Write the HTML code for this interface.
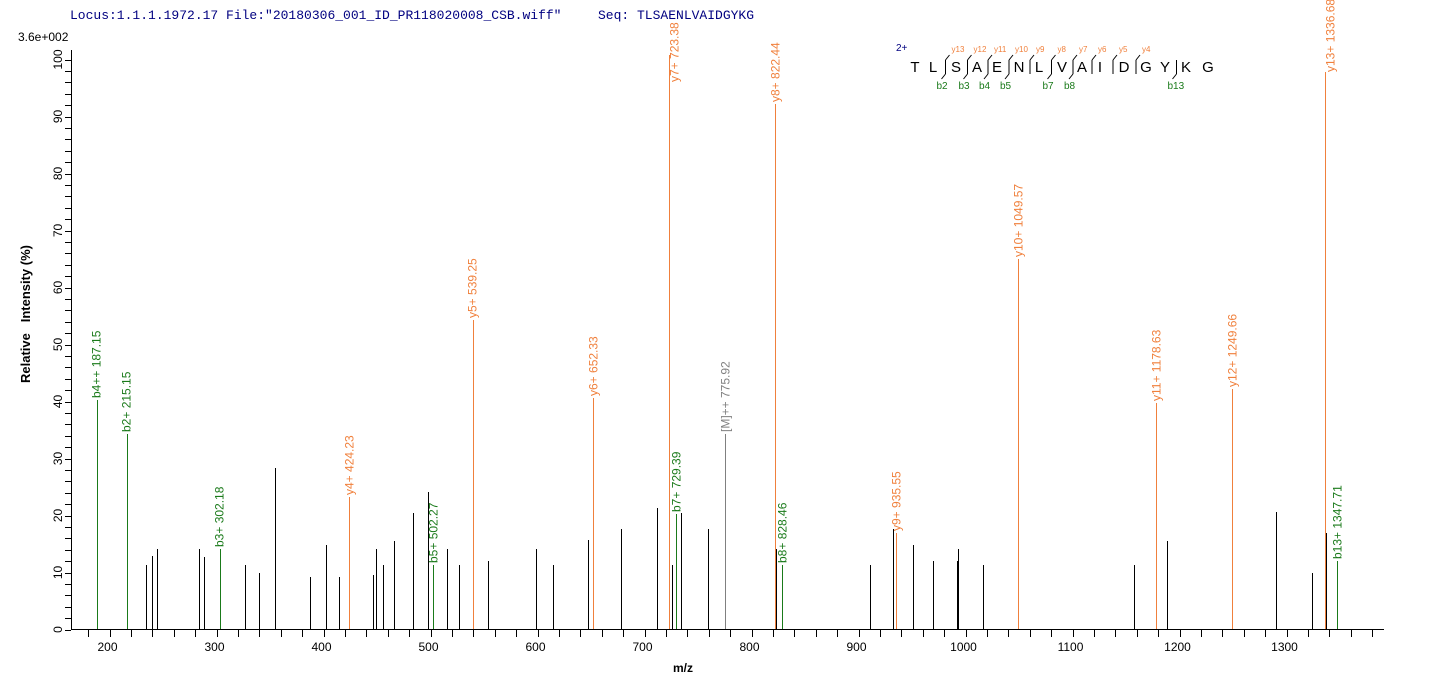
<!DOCTYPE html>
<html><head><meta charset="utf-8"><style>
html,body{margin:0;padding:0;background:#fff;}
svg{display:block;}
text{font-family:"Liberation Sans",Arial,sans-serif;}
</style></head><body>
<svg width="1436" height="689" viewBox="0 0 1436 689" xmlns="http://www.w3.org/2000/svg">
<text x="70" y="19" font-size="13" fill="#000080" style="font-family:'Liberation Mono',monospace">Locus:1.1.1.1972.17 File:"20180306_001_ID_PR118020008_CSB.wiff"</text>
<text x="598" y="19" font-size="13" fill="#000080" style="font-family:'Liberation Mono',monospace;white-space:pre">Seq: TLSAENLVAIDGYKG</text>
<text x="18" y="41" font-size="12" fill="#000">3.6e+002</text>
<g stroke="#000" stroke-width="1" shape-rendering="crispEdges">
<line x1="71.5" y1="50" x2="71.5" y2="630"/>
<line x1="71" y1="629.5" x2="1384" y2="629.5"/>
<g id="yt"></g><g id="xt"></g>
</g>
<g id="yl" font-size="12" fill="#000"></g>
<g id="xl" font-size="12" fill="#000"></g>
<text transform="translate(30,314) rotate(-90)" text-anchor="middle" font-size="13" font-weight="bold" style="white-space:pre">Relative   Intensity (%)</text>
<text x="683" y="672" text-anchor="middle" font-size="12" font-weight="bold">m/z</text>
<g id="peaks" shape-rendering="crispEdges"></g>
<g id="labels" font-size="12"></g>
<g id="seq"></g>
</svg>
<script>
var NS="http://www.w3.org/2000/svg";
function el(p,t,a,txt){var e=document.createElementNS(NS,t);for(var k in a)e.setAttribute(k,a[k]);if(txt!=null)e.textContent=txt;document.getElementById(p).appendChild(e);return e;}
for(var v=0;v<=100;v+=2){var y=629.5-v*5.7;y=Math.round(y)+0.5;el('yt','line',{x1:65,y1:y,x2:71,y2:y});
 if(v%10==0)el('yl','text',{transform:'translate(62,'+(629.5-v*5.7)+') rotate(-90)','text-anchor':'middle'},String(v));}
function X(m){return 109.5+(m-200)*1.07;}
for(var m=180;m<=1380;m+=20){var x=Math.round(X(m))+0.5;if(x<71||x>1384)continue;el('xt','line',{x1:x,y1:630,x2:x,y2:637});
 if(m%100==0)el('xl','text',{x:X(m)-2,y:651,'text-anchor':'middle'},String(m));}
var K='#000',G='#1a7a1a',O='#f0803c',GR='#808080';
var P=[[145.7,565],[152.3,556],[157.3,549],[199.3,549],[204.3,557],[245.3,565],[258.7,573],[275.3,468],[309.7,577],[326.3,545],[339.3,577],[373.3,575],[376.3,549],[383.3,565],[394.3,541],[413.3,513],[428.3,492],[447.3,549],[459.3,565],[487.7,561],
[536.3,549],[553.3,565],[588.3,540],[621.3,529],[657.3,508],[672.3,565],[681.3,513],[707.7,529],[776.3,549],[870.3,565],[893.3,529],[912.7,565],[913.3,545],[933.3,561],
[957.3,561],[958.3,549],[983.3,565],[1134.3,565],[1167.3,541],[1276.3,512],[1312.3,573],[1326.3,533]];
P.forEach(function(p){var x=Math.round(p[0])+0.5;el('peaks','line',{x1:x,y1:p[1],x2:x,y2:629,stroke:K});});
var L=[[96.7,400,G,'b4++ 187.15'],[126.7,434,G,'b2+ 215.15'],[219.7,549,G,'b3+ 302.18'],[433.3,565,G,'b5+ 502.27'],[349.3,497,O,'y4+ 424.23'],[472.7,320,O,'y5+ 539.25'],[593.3,398,O,'y6+ 652.33'],[669.3,55,O,'y7+ 723.38',82],[725.3,434,GR,'[M]++ 775.92'],[775.3,104,O,'y8+ 822.44'],[676.3,514,G,'b7+ 729.39'],[782.3,565,G,'b8+ 828.46'],[896.3,533,O,'y9+ 935.55'],[1018.3,259,O,'y10+ 1049.57'],[1156.3,403,O,'y11+ 1178.63'],[1232.3,389,O,'y12+ 1249.66'],[1325.3,72,O,'y13+ 1336.68',72],[1337.3,561,G,'b13+ 1347.71']];
L.forEach(function(p){var x=Math.round(p[0])+0.5;el('peaks','line',{x1:x,y1:p[1],x2:x,y2:629,stroke:p[2]});
 var by=p[4]!=null?p[4]:p[1]-2;var tx=p[4]!=null?p[0]+9:p[0]+4;
 el('labels','text',{transform:'translate('+tx+','+by+') rotate(-90)',fill:p[2]},p[3]);});
el('seq','text',{x:896,y:51,'font-size':'10',fill:'#000080'},'2+');
var letters='TLSAENLVAIDGYKG'.split(''),lx=[915,933,956,977,997,1019,1039,1062,1082,1100,1124,1146,1165,1186,1208];
letters.forEach(function(c,i){el('seq','text',{x:lx[i],y:72,'font-size':'15','text-anchor':'middle',fill:'#000'},c);});
var ys=['y13','y12','y11','y10','y9','y8','y7','y6','y5','y4'];
for(var i=0;i<10;i++){var bx=(lx[i+2]+lx[i+1])/2+1;
 el('seq','line',{x1:bx,y1:60,x2:bx,y2:74,stroke:'#000','stroke-width':1});
 el('seq','line',{x1:bx,y1:60,x2:bx+4,y2:55,stroke:'#000','stroke-width':1});
 el('seq','text',{x:bx+6,y:52,'font-size':'8',fill:O},ys[i]);}
var bb=[[1,'b2'],[2,'b3'],[3,'b4'],[4,'b5'],[6,'b7'],[7,'b8'],[12,'b13']];
bb.forEach(function(b){var bx=(lx[b[0]+1]+lx[b[0]])/2+1;
 el('seq','line',{x1:bx,y1:74,x2:bx-4,y2:79,stroke:'#000','stroke-width':1});
 el('seq','text',{x:bx-9,y:89,'font-size':'10',fill:G},b[1]);});
var kx=(lx[13]+lx[12])/2+1;el('seq','line',{x1:kx,y1:60,x2:kx,y2:74,stroke:'#000'});
</script>
</body></html>
